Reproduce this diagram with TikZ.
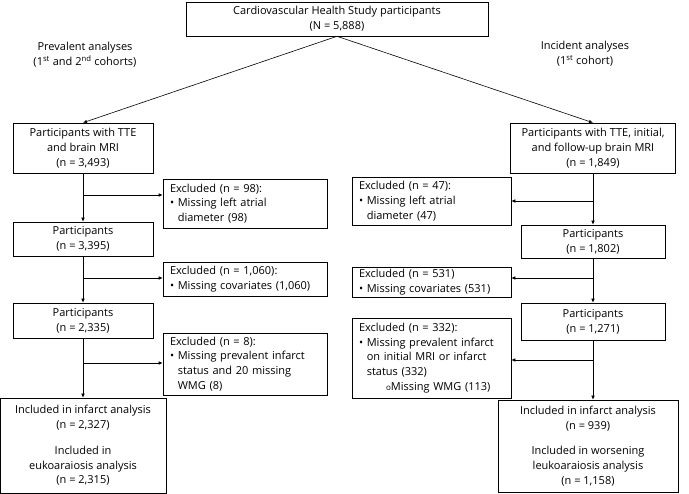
\documentclass[tikz,border=0pt]{standalone}
\usepackage{fontspec}
\setmainfont{Open Sans}
\usetikzlibrary{arrows.meta}

\begin{document}
\begin{tikzpicture}[x=1pt,y=-1pt,
			>={Latex[length=4pt,width=3.5pt]},
			every path/.style={line width=0.6pt},
			box/.style={
				draw,
				align=center,
				inner sep=2pt,
				font=\fontsize{11}{14.7}\selectfont
			},
			exbox/.style={
				box,
				align=left,
				inner xsep=7pt
			},
			note/.style={
				align=center,
				font=\fontsize{11}{14.7}\selectfont
			}]
			
			\useasboundingbox (0,0) rectangle (689,494);
			
			\node[box,minimum width=302pt,minimum height=34pt] (cohort) at (337,19) {Cardiovascular Health Study participants\\(N = 5,888)};
			
			\node[note] (prevalent) at (85,55) {Prevalent analyses\\(1\textsuperscript{st} and 2\textsuperscript{nd} cohorts)};
			
			\node[note] (incident) at (585,54) {Incident analyses\\(1\textsuperscript{st} cohort)};
			
			% prevalent side
			\node[box,minimum width=140pt,minimum height=50pt] (tteL) at (83,148) {Participants with TTE\\and brain MRI\\(n = 3,493)};
			
			\node[box,minimum width=140pt,minimum height=34pt] (partL1) at (83,239) {Participants\\(n = 3,395)};
			
			\node[box,minimum width=140pt,minimum height=35pt] (partL2) at (83,320.5) {Participants\\(n = 2,335)};
			
			\node[box,minimum width=166pt,minimum height=95pt] (inclL) at (83,445.5) {Included in infarct analysis\\(n = 2,327)\\[11pt]Included in\\eukoaraiosis analysis\\(n = 2,315)};
			
			\node[exbox,text width=150pt,minimum height=49pt] (exL1) at (245,203.5) {Excluded (n = 98):\\\textbullet\ Missing left atrial\\\hphantom{\textbullet\ }diameter (98)};
			
			\node[exbox,text width=150pt,minimum height=34pt] (exL2) at (245,279) {Excluded (n = 1,060):\\\textbullet\ Missing covariates (1,060)};
			
			\node[exbox,text width=150pt,minimum height=62pt] (exL3) at (245,364) {Excluded (n = 8):\\\textbullet\ Missing prevalent infarct\\\hphantom{\textbullet\ }status and 20 missing\\\hphantom{\textbullet\ }WMG (8)};
			
			% incident side
			\node[box,minimum width=165pt,minimum height=50pt] (tteR) at (593,148) {Participants with TTE, initial,\\and follow-up brain MRI\\(n = 1,849)};
			
			\node[box,minimum width=144pt,minimum height=33pt] (partR1) at (593,241.5) {Participants\\(n = 1,802)};
			
			\node[box,minimum width=144pt,minimum height=37pt] (partR2) at (593,321.5) {Participants\\(n = 1,271)};
			
			\node[box,minimum width=180pt,minimum height=92pt] (inclR) at (588,446) {Included in infarct analysis\\(n = 939)\\[11pt]Included in worsening\\leukoaraiosis analysis\\(n = 1,158)};
			
			\node[exbox,text width=145pt,minimum height=48pt] (exR1) at (431.5,201) {Excluded (n = 47):\\\textbullet\ Missing left atrial\\\hphantom{\textbullet\ }diameter (47)};
			
			\node[exbox,text width=145pt,minimum height=28pt] (exR2) at (431.5,282) {Excluded (n = 531)\\\textbullet\ Missing covariates (531)};
			
			\node[exbox,text width=145pt,minimum height=80pt] (exR3) at (431.5,358) {Excluded (n = 332):\\\textbullet\ Missing prevalent infarct\\\hphantom{\textbullet\ }on initial MRI or infarct\\\hphantom{\textbullet\ }status (332)\\\hspace*{27pt}{\fontsize{8}{8}\selectfont o}Missing WMG (113)};
			
			% branch points
			\coordinate (bL1) at (83,195);
			\coordinate (bL2) at (83,278);
			\coordinate (bL3) at (83,363);
			\coordinate (bR1) at (593,201);
			\coordinate (bR2) at (593,278);
			\coordinate (bR3) at (593,360);
			
			\draw[->](cohort.south)--(tteL.north);
			
			\draw[->](cohort.south)--(tteR.north);
			
			\draw[->](tteL)--(partL1);
			
			\draw[->](partL1)--(partL2);
			
			\draw[->](partL2)--(inclL);
			
			\draw[->](bL1)--(bL1 -| exL1.west);
			
			\draw[->](bL2)--(bL2 -| exL2.west);
			
			\draw[->](bL3)--(bL3 -| exL3.west);
			
			\draw[->](tteR)--(partR1);
			
			\draw[->](partR1)--(partR2);
			
			\draw[->](partR2.south)--(partR2.south |- inclR.north);
			
			\draw[->](bR1)--(bR1 -| exR1.east);
			
			\draw[->](bR2)--(bR2 -| exR2.east);
			
			\draw[->](bR3)--(bR3 -| exR3.east);
			
		\end{tikzpicture}
\end{document}
